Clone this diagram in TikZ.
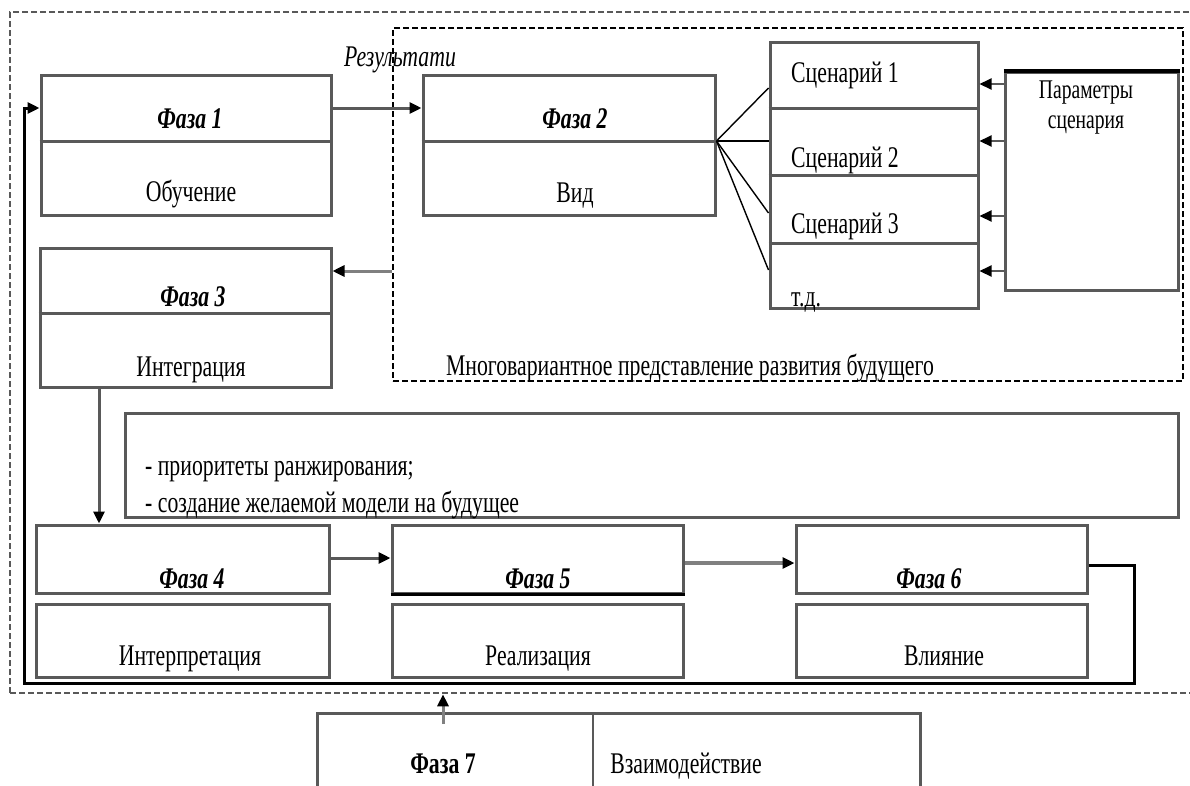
\documentclass[tikz,border=0pt]{standalone}
\usepackage{fontspec}
\setmainfont{Liberation Serif}[FakeStretch=0.725]
\usetikzlibrary{arrows.meta}
\definecolor{boxgray}{gray}{0.35}

\begin{document}
\begin{tikzpicture}[
    x=1pt, y=-1pt,
    box/.style={draw=boxgray, line width=3pt, inner sep=0pt},
    dashbox/.style={draw=#1, line width=2.6pt, dash pattern=on 6pt off 3pt, inner sep=0pt},
    txt/.style={font=\fontsize{30}{32}\selectfont, inner sep=0pt, anchor=base},
    phasetitle/.style={txt, font=\fontsize{30}{32}\selectfont\bfseries\itshape},
    small/.style={txt, font=\fontsize{27}{29}\selectfont},
    arr/.style={-{Triangle[length=12pt,width=11pt,color=black]}, line width=3pt, draw=boxgray},
    fan/.style={line width=1.4pt}
]
  \useasboundingbox (0,0) rectangle (1190,785);

  % --- DASHED FRAMES ---
  \node[dashbox=boxgray, minimum width=1230pt, minimum height=681pt] (outer) at (625,352.5) {};
  \node[dashbox=black, minimum width=790pt, minimum height=353pt] (multi) at (788,204.5) {};
  \node[txt] (multit) at (690,375) {Многовариантное представление развития будущего};

  % --- PHASE 1 ---
  \node[box, minimum width=290pt, minimum height=140pt] (ph1) at (186,145) {};
  \draw[box] (ph1.west |- 0,141) -- (ph1.east |- 0,141);
  \node[phasetitle] (ph1t) at (190,128) {Фаза 1};
  \node[txt] (ph1n) at (191,201) {Обучение};
  \node[txt, font=\fontsize{30}{32}\selectfont\itshape] (res) at (400,66) {Результати};

  % --- PHASE 2 AND SCENARIOS ---
  \node[box, minimum width=292pt, minimum height=140pt] (ph2) at (569,145) {};
  \draw[box] (ph2.west |- 0,141) -- (ph2.east |- 0,141);
  \node[phasetitle] (ph2t) at (575,128) {Фаза 2};
  \node[txt] (ph2n) at (575,202) {Вид};

  \node[box, minimum width=208pt, minimum height=266pt] (scen) at (874,175) {};
  \foreach \yy in {108,175,243}
    \draw[box] (scen.west |- 0,\yy) -- (scen.east |- 0,\yy);
  \node[txt, anchor=base west] (sc1) at (791,82) {Сценарий 1};
  \node[txt, anchor=base west] (sc2) at (791,167) {Сценарий 2};
  \node[txt, anchor=base west] (sc3) at (791,233) {Сценарий 3};
  \node[txt, anchor=base west] (sc4) at (791,306) {т.д.};

  \node[box, minimum width=173pt, minimum height=218pt] (par) at (1091.5,181) {};
  \draw[line width=4pt] (par.north west) -- (par.north east);
  \node[small] (part) at (1086,98) {Параметры};
  \node[small] (parn) at (1086,128) {сценария};

  % --- PHASE 3 ---
  \node[box, minimum width=291pt, minimum height=139pt] (ph3) at (185.5,317.5) {};
  \draw[box] (ph3.west |- 0,313) -- (ph3.east |- 0,313);
  \node[phasetitle] (ph3t) at (193,306) {Фаза 3};
  \node[txt] (ph3n) at (191,376) {Интеграция};

  % --- PRIORITIES ---
  \node[box, minimum width=1053pt, minimum height=104pt] (prio) at (651.5,465) {};
  \node[txt, anchor=base west] (prio1) at (145,475) {- приоритеты ранжирования;};
  \node[txt, anchor=base west] (prio2) at (145,512) {- создание желаемой модели на будущее};

  % --- PHASES 4, 5, 6 ---
  \node[box, minimum width=293pt, minimum height=68pt] (ph4a) at (182.5,559) {};
  \node[box, minimum width=293pt, minimum height=73pt] (ph4b) at (182.5,640.5) {};
  \node[box, minimum width=291pt, minimum height=68pt] (ph5a) at (537.5,559) {};
  \node[box, minimum width=291pt, minimum height=73pt] (ph5b) at (537.5,640.5) {};
  \node[box, minimum width=291pt, minimum height=68pt] (ph6a) at (941.5,559) {};
  \node[box, minimum width=291pt, minimum height=73pt] (ph6b) at (941.5,640.5) {};
  \draw[line width=3.5pt] (ph5a.south west) -- (ph5a.south east);
  \node[phasetitle] (ph4t) at (192,588) {Фаза 4};
  \node[txt] (ph4n) at (190,665) {Интерпретация};
  \node[phasetitle] (ph5t) at (538,588) {Фаза 5};
  \node[txt] (ph5n) at (538,665) {Реализация};
  \node[phasetitle] (ph6t) at (929,588) {Фаза 6};
  \node[txt] (ph6n) at (944,665) {Влияние};

  % --- PHASE 7 ---
  \draw[box] (317,800) |- (920,713) -- (920,800);
  \draw[box, line width=2pt] (593,713) -- (593,800);
  \node[txt, font=\fontsize{30}{32}\selectfont\bfseries] (ph7t) at (443,773) {Фаза 7};
  \node[txt] (ph7n) at (686,773) {Взаимодействие};
  \coordinate (ph7in) at (443,724);

  % --- CONNECTIONS ---
  \draw[arr] (ph1.east |- 0,108) -- (ph2.west |- 0,108);
  \foreach \yy in {88,141,213,270}
    \draw[fan] (ph2.east |- 0,141) -- (scen.west |- 0,\yy);
  \foreach \yy in {84,141,216,271}
    \draw[arr, line width=2.2pt] (par.west |- 0,\yy) -- (scen.east |- 0,\yy);
  \draw[arr, draw=gray] (multi.west |- 0,271) -- (ph3.east |- 0,271);
  \draw[arr] (ph3.south -| 99,0) -- (ph4a.north -| 99,0);
  \draw[arr] (ph4a.east |- 0,558) -- (ph5a.west |- 0,558);
  \draw[arr, draw=gray, line width=4pt] (ph5a.east |- 0,563) -- (ph6a.west |- 0,563);
  \draw[arr, draw=gray] (ph7in) -- (outer.south -| ph7in);

  % feedback loop
  \draw[arr, draw=black] (ph6a.east |- 0,565) -- ++(46,0) |- (24,683) |- (ph1.west |- 0,108);

\end{tikzpicture}
\end{document}
